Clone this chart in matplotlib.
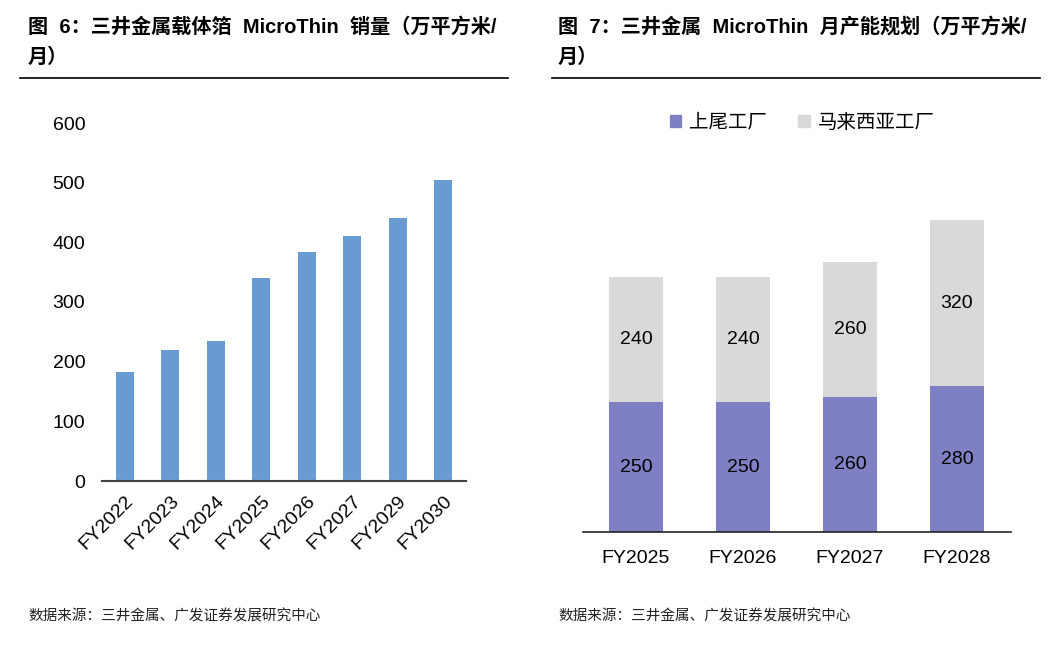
import matplotlib
matplotlib.use('Agg')
import matplotlib.pyplot as plt
from matplotlib.lines import Line2D
from matplotlib.patches import Patch
import numpy as np

plt.rcParams['font.family'] = ['Liberation Sans', 'Noto Sans CJK SC', 'DejaVu Sans']

# left chart: MicroThin sales
years_left = ['FY2022', 'FY2023', 'FY2024', 'FY2025', 'FY2026', 'FY2027', 'FY2029', 'FY2030']
sales = [182, 219, 235, 340, 383, 410, 440, 505]

# right chart: monthly capacity plan
years_right = ['FY2025', 'FY2026', 'FY2027', 'FY2028']
ageo = [250, 250, 260, 280]
malaysia = [240, 240, 260, 320]
series_names = ['上尾工厂', '马来西亚工厂']

title_left = ['图  6：三井金属载体箔  MicroThin  销量（万平方米/', '月）']
title_right = ['图  7：三井金属  MicroThin  月产能规划（万平方米/', '月）']
source = '数据来源：三井金属、广发证券发展研究中心'

W, H = 1048, 646
fig = plt.figure(figsize=(W / 100, H / 100), dpi=100)

def fx(px):
    return px / W

def fy(py):
    return 1 - py / H

# titles and rules
for x0, lines in [(28, title_left), (558, title_right)]:
    fig.text(fx(x0), fy(27), lines[0], fontsize=14.5, fontweight='bold', va='center', ha='left')
    fig.text(fx(x0), fy(57), lines[1], fontsize=14.5, fontweight='bold', va='center', ha='left')
fig.add_artist(Line2D([fx(20), fx(508)], [fy(78), fy(78)], color='black', lw=1.2))
fig.add_artist(Line2D([fx(552), fx(1040)], [fy(78), fy(78)], color='black', lw=1.2))

# sources
fig.text(fx(28), fy(616), source, fontsize=10.5, va='center', ha='left', color='#222222')
fig.text(fx(558), fy(616), source, fontsize=10.5, va='center', ha='left', color='#222222')

# left axes
ax1 = fig.add_axes([fx(102), fy(481), fx(466) - fx(102), fy(123) - fy(481)])
x = np.arange(len(years_left))
ax1.bar(x, sales, width=0.4, color='#6A9BD0')
ax1.set_xlim(-0.5, len(years_left) - 0.5)
ax1.set_ylim(0, 600)
ax1.set_yticks(range(0, 601, 100))
ax1.set_xticks(x)
ax1.set_xticklabels(years_left, rotation=45, ha='right', rotation_mode='anchor')
ax1.tick_params(axis='both', length=0, labelsize=14)
ax1.tick_params(axis='y', pad=12)
ax1.tick_params(axis='x', pad=8)
for s in ['top', 'right', 'left']:
    ax1.spines[s].set_visible(False)
ax1.spines['bottom'].set_color('#404040')
ax1.spines['bottom'].set_linewidth(1.5)

# right axes
ax2 = fig.add_axes([fx(582.5), fy(532), fx(1010.5) - fx(582.5), fy(168) - fy(532)])
x2 = np.arange(len(years_right))
ax2.bar(x2, ageo, width=0.51, color='#7F7FC4')
ax2.bar(x2, malaysia, width=0.51, bottom=ageo, color='#D9D9D9')
for i in range(len(years_right)):
    ax2.text(x2[i], ageo[i] / 2, str(ageo[i]), ha='center', va='center', fontsize=14)
    ax2.text(x2[i], ageo[i] + malaysia[i] / 2, str(malaysia[i]), ha='center', va='center', fontsize=14)
ax2.set_xlim(-0.5, len(years_right) - 0.5)
ax2.set_ylim(0, 700)
ax2.set_yticks([])
ax2.set_xticks(x2)
ax2.set_xticklabels(years_right)
ax2.tick_params(axis='x', length=0, labelsize=14, pad=13)
for s in ['top', 'right', 'left']:
    ax2.spines[s].set_visible(False)
ax2.spines['bottom'].set_color('#222222')
ax2.spines['bottom'].set_linewidth(1.2)

handles = [Patch(color='#7F7FC4'), Patch(color='#D9D9D9')]
fig.legend(handles, series_names, loc='center', bbox_to_anchor=(fx(802), fy(123)),
           ncol=2, frameon=False, fontsize=14, handlelength=0.6, handleheight=0.6,
           handletextpad=0.4, columnspacing=1.6)

plt.savefig('out.png', dpi=100)
plt.close()
